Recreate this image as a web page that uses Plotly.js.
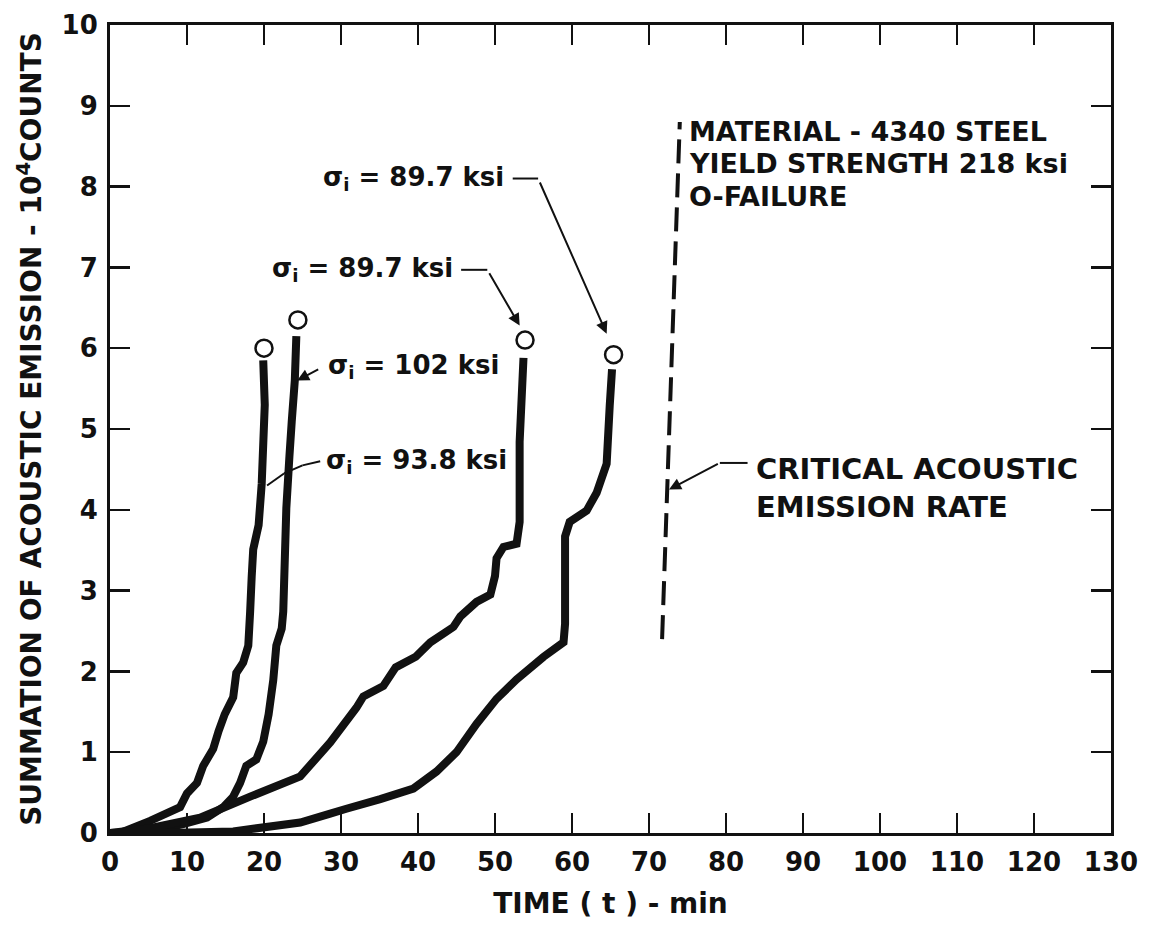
<!DOCTYPE html>
<html>
<head>
<meta charset="utf-8">
<script src="https://cdn.plot.ly/plotly-3.0.1.min.js"></script>
<style>
  html, body { margin: 0; padding: 0; background: #ffffff; }
  #chart { width: 1156px; height: 930px; }
</style>
</head>
<body>
<div id="chart"></div>
<script>
// Cumulative acoustic emission (10^4 counts) against time (min) for four 4340 steel specimens
const timeA = [0, 1.3, 5.2, 9.1, 10.0, 11.3, 12.1, 13.4, 14.1, 14.9, 16.0, 16.4, 17.3, 17.96, 18.2, 18.4, 18.6, 19.3, 19.7, 20.1, 19.9];
const countsA = [0, 0, 0.15, 0.32, 0.49, 0.62, 0.83, 1.04, 1.26, 1.47, 1.68, 1.98, 2.11, 2.32, 2.74, 3.17, 3.51, 3.81, 4.32, 5.30, 5.85];

const timeB = [0, 5.2, 9.5, 12.6, 14.7, 16.0, 16.9, 17.7, 19.0, 19.9, 20.6, 21.2, 21.6, 22.3, 22.5, 22.7, 22.9, 23.3, 23.6, 24.0, 24.2];
const countsB = [0, 0.02, 0.11, 0.19, 0.32, 0.45, 0.62, 0.83, 0.91, 1.13, 1.47, 1.89, 2.32, 2.53, 2.74, 3.38, 4.02, 4.66, 5.09, 5.60, 6.15];

const timeC = [0, 5.2, 11.7, 18.2, 24.7, 28.6, 32.0, 32.9, 35.5, 37.1, 39.7, 41.6, 44.6, 45.5, 47.6, 49.4, 50.0, 50.2, 51.1, 52.8, 53.2, 53.2, 53.7];
const countsC = [0, 0.06, 0.19, 0.45, 0.70, 1.12, 1.55, 1.69, 1.82, 2.05, 2.18, 2.36, 2.55, 2.68, 2.86, 2.95, 3.18, 3.40, 3.54, 3.58, 3.85, 4.84, 5.88];

const timeD = [0, 7.4, 16.0, 24.7, 28.6, 30.7, 35.1, 39.4, 42.4, 45.0, 47.6, 50.2, 52.8, 56.3, 58.9, 59.1, 59.1, 59.7, 61.9, 63.2, 64.5, 64.9, 65.2];
const countsD = [0, 0, 0.02, 0.13, 0.24, 0.30, 0.42, 0.55, 0.76, 1.00, 1.35, 1.66, 1.90, 2.18, 2.36, 2.59, 3.67, 3.85, 3.99, 4.21, 4.57, 5.29, 5.74];

// Failure points (open circles)
const failureTime = [20.0, 24.4, 53.9, 65.4];
const failureCounts = [6.0, 6.35, 6.10, 5.92];

// Critical acoustic emission rate (dashed)
const criticalTime = [71.7, 74.0];
const criticalCounts = [2.4, 8.8];

// Axis ticks
const xTicks = [0, 10, 20, 30, 40, 50, 60, 70, 80, 90, 100, 110, 120, 130];
const yTicks = [0, 1, 2, 3, 4, 5, 6, 7, 8, 9, 10];

const FONT = 'DejaVu Sans, Liberation Sans, sans-serif';
const INK = '#111111';

function curve(t, n) {
  return {
    x: t, y: n, type: 'scatter', mode: 'lines',
    line: { color: INK, width: 8, simplify: false },
    hoverinfo: 'skip', showlegend: false
  };
}

const traces = [
  curve(timeA, countsA),
  curve(timeB, countsB),
  curve(timeC, countsC),
  curve(timeD, countsD),
  {
    x: failureTime, y: failureCounts, type: 'scatter', mode: 'markers',
    marker: { symbol: 'circle-open', size: 17, color: INK, line: { width: 2.5, color: INK } },
    showlegend: false, hoverinfo: 'skip'
  },
  {
    x: criticalTime, y: criticalCounts, type: 'scatter', mode: 'lines',
    line: { color: INK, width: 4, dash: '24px,10px' },
    showlegend: false, hoverinfo: 'skip'
  }
];

function boldFont(size) { return { family: FONT, size: size, color: INK, weight: 'bold' }; }

function label(text, x, y, anchor, size) {
  return { text: text, x: x, y: y, xref: 'x', yref: 'y', showarrow: false,
           xanchor: anchor || 'left', yanchor: 'middle', font: boldFont(size || 26) };
}
function pointer(tailX, tailY, headX, headY) {
  return { text: ' ', x: headX, y: headY, ax: tailX, ay: tailY,
           xref: 'x', yref: 'y', axref: 'x', ayref: 'y', showarrow: true,
           arrowhead: 2, arrowsize: 1.2, arrowwidth: 2, arrowcolor: INK,
           standoff: 0, startstandoff: 0, font: boldFont(4) };
}
function leader(x0, y0, x1, y1) {
  return { type: 'line', xref: 'x', yref: 'y', x0: x0, y0: y0, x1: x1, y1: y1,
           line: { color: INK, width: 2 } };
}

const annotations = [
  label('σ<sub>i</sub> = 89.7 ksi', 51.4, 8.1, 'right'),
  pointer(55.6, 8.1, 64.5, 6.18),
  label('σ<sub>i</sub> = 89.7 ksi', 44.8, 6.97, 'right'),
  pointer(49.0, 6.97, 53.2, 6.28),
  label('σ<sub>i</sub> = 102 ksi', 28.0, 5.77, 'left'),
  pointer(27.3, 5.75, 24.3, 5.6),
  label('σ<sub>i</sub> = 93.8 ksi', 27.8, 4.6, 'left'),
  label('MATERIAL - 4340 STEEL', 74.9, 8.68, 'left', 27),
  label('YIELD STRENGTH 218 ksi', 74.9, 8.28, 'left', 27),
  label('O-FAILURE', 74.9, 7.88, 'left', 27),
  label('CRITICAL ACOUSTIC', 83.7, 4.5, 'left', 29),
  label('EMISSION RATE', 83.7, 4.04, 'left', 29),
  pointer(79.2, 4.58, 72.6, 4.25)
];

const shapes = [
  leader(52.3, 8.1, 55.6, 8.1),
  leader(45.6, 6.97, 49.0, 6.97),
  leader(27.3, 4.6, 25.0, 4.55),
  leader(25.0, 4.55, 22.6, 4.45),
  leader(22.6, 4.45, 20.4, 4.3),
  leader(82.8, 4.58, 79.2, 4.58)
];

const axisCommon = {
  showline: true, linecolor: INK, linewidth: 3, mirror: 'allticks',
  ticks: 'inside', ticklen: 20, tickwidth: 2.5, tickcolor: INK,
  showgrid: false, zeroline: false, fixedrange: true,
  tickfont: boldFont(26)
};

const layout = {
  width: 1156, height: 930,
  paper_bgcolor: '#ffffff', plot_bgcolor: '#ffffff',
  margin: { l: 110, r: 45, t: 25, b: 97 },
  showlegend: false,
  xaxis: Object.assign({}, axisCommon, {
    range: [0, 130], tickmode: 'array', tickvals: xTicks,
    ticktext: xTicks.map(String), ticklabelstandoff: 4,
    title: { text: 'TIME ( t ) - min', font: boldFont(28), standoff: 18 }
  }),
  yaxis: Object.assign({}, axisCommon, {
    range: [0, 10], tickmode: 'array', tickvals: yTicks,
    ticktext: yTicks.map(String), ticklabelstandoff: 4,
    title: { text: 'SUMMATION OF ACOUSTIC EMISSION - 10<sup>4</sup>COUNTS', font: boldFont(28), standoff: 12 }
  }),
  annotations: annotations,
  shapes: shapes
};

Plotly.newPlot('chart', traces, layout, { staticPlot: true, displayModeBar: false });
</script>
</body>
</html>
